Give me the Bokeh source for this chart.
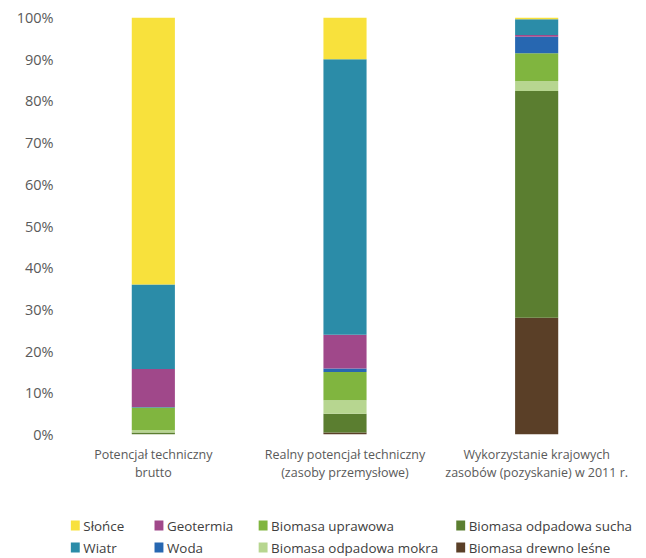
from bokeh.plotting import figure
from bokeh.models import ColumnDataSource, FixedTicker, Range1d
from bokeh.layouts import column
from bokeh.core.properties import value
from bokeh.embed import file_html
from bokeh.resources import INLINE

# Structure of renewable energy resources, share in % (bottom to top of each bar)
categories = [
    "Potencjał techniczny\nbrutto",
    "Realny potencjał techniczny\n(zasoby przemysłowe)",
    "Wykorzystanie krajowych\nzasobów (pozyskanie) w 2011 r.",
]
series = [
    "Biomasa drewno leśne",
    "Biomasa odpadowa sucha",
    "Biomasa odpadowa mokra",
    "Biomasa uprawowa",
    "Woda",
    "Geotermia",
    "Wiatr",
    "Słońce",
]
drewno = [0.0, 0.5, 28.0]
sucha = [0.5, 4.5, 54.4]
mokra = [0.5, 3.2, 2.4]
uprawowa = [5.5, 6.8, 6.6]
woda = [0.1, 0.8, 4.0]
geotermia = [9.1, 8.1, 0.4]
wiatr = [20.3, 66.1, 3.8]
slonce = [64.0, 10.0, 0.4]
colors = ["#5A3F27", "#5B7E30", "#B7D690", "#80B53F",
          "#2767B1", "#A0488A", "#2B8CA8", "#F8E13C"]
y_ticks = list(range(0, 101, 10))

# Legend layout: two rows, four columns
legend_rows = [
    ["Słońce", "Geotermia", "Biomasa uprawowa", "Biomasa odpadowa sucha"],
    ["Wiatr", "Woda", "Biomasa odpadowa mokra", "Biomasa drewno leśne"],
]

FONT = "Open Sans"
data = dict(x=categories)
for name, vals in zip(series, [drewno, sucha, mokra, uprawowa, woda, geotermia, wiatr, slonce]):
    data[name] = vals
source = ColumnDataSource(data)

p = figure(
    x_range=categories, y_range=Range1d(0, 100),
    width=646, height=490, output_backend="svg", toolbar_location=None,
    min_border_left=57, min_border_right=14, min_border_top=17, min_border_bottom=56,
)
p.x_range.range_padding = 0
p.vbar_stack(series, x="x", width=0.225, color=colors, source=source, line_width=0)

p.outline_line_color = None
p.grid.visible = False
p.background_fill_color = "white"
p.border_fill_color = "white"

p.yaxis.ticker = FixedTicker(ticks=y_ticks)
p.yaxis.major_label_overrides = {t: f"{t}%" for t in y_ticks}
p.yaxis.axis_line_color = None
p.yaxis.major_tick_line_color = None
p.yaxis.minor_tick_line_color = None
p.yaxis.major_tick_out = 0
p.yaxis.major_label_standoff = 4
p.yaxis.major_label_text_font = FONT
p.yaxis.major_label_text_font_size = "14.5px"
p.yaxis.major_label_text_color = "#5a5a5a"

p.xaxis.axis_line_color = None
p.xaxis.major_tick_line_color = None
p.xaxis.minor_tick_line_color = None
p.xaxis.major_tick_out = 0
p.xaxis.major_label_standoff = 11
p.xaxis.major_label_text_font = FONT
p.xaxis.major_label_text_font_size = "12.5px"
p.xaxis.major_label_text_color = "#5a5a5a"
p.xaxis.major_label_text_line_height = 1.1

# Legend drawn in its own strip below the chart
color_of = dict(zip(series, colors))
col_x = [15, 109, 226, 448]
row_y = [35, 57]
lx, ly, lc, tx, tl = [], [], [], [], []
for r, row in enumerate(legend_rows):
    for c, name in enumerate(row):
        lx.append(col_x[c] + 5)
        ly.append(row_y[r])
        lc.append(color_of[name])
        tx.append(col_x[c] + 14)
        tl.append(name)

leg = figure(
    x_range=Range1d(0, 646), y_range=Range1d(68, 0),
    width=646, height=68, output_backend="svg", toolbar_location=None,
    min_border=0,
)
leg.rect(x=lx, y=ly, width=10, height=10, color=lc, line_width=0)
leg.text(x=tx, y=[v + 0.5 for v in ly], text=tl, text_baseline="middle",
         text_font=value(FONT), text_font_size="13.4px", text_color="#404040")
leg.axis.visible = False
leg.grid.visible = False
leg.outline_line_color = None

layout = column(p, leg, spacing=0)
open("out.html", "w").write(file_html(layout, INLINE))
